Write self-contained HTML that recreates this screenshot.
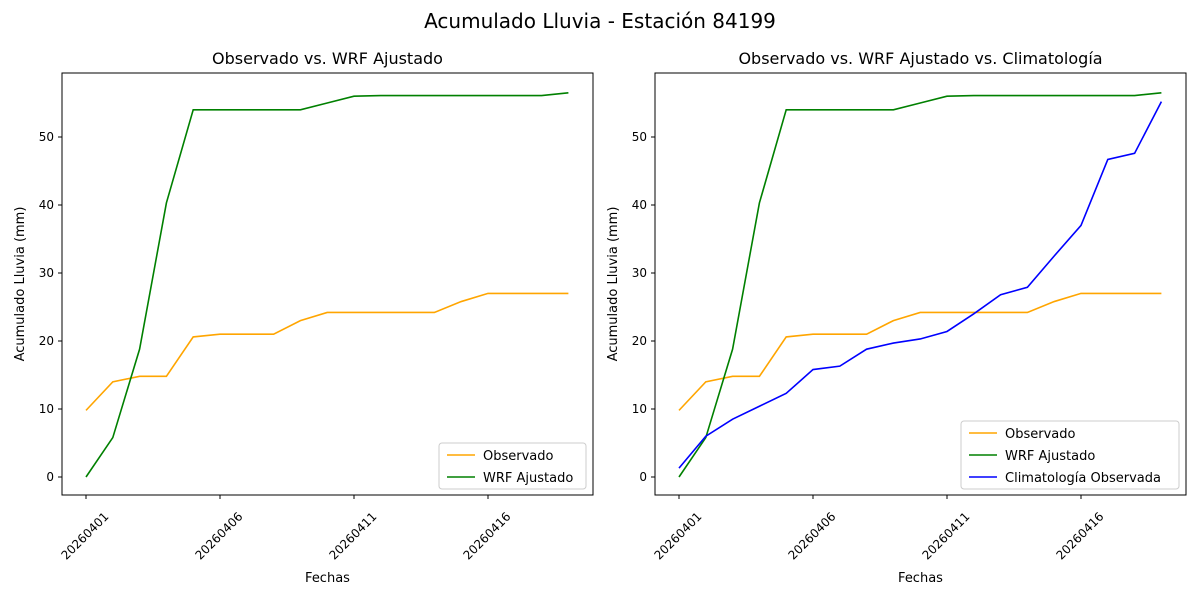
<!DOCTYPE html>
<html><head><meta charset="utf-8"><style>
body{margin:0;background:#fff;font-family:"Liberation Sans","DejaVu Sans",sans-serif}
svg text{font-family:"DejaVu Sans","Liberation Sans",sans-serif}
</style></head><body>
<svg id="c" width="1200" height="600" xmlns="http://www.w3.org/2000/svg">
<text x="600" y="28" font-size="20" text-anchor="middle">Acumulado Lluvia - Estación 84199</text>
</svg>
<script>
const dates=["20260401","20260402","20260403","20260404","20260405","20260406","20260407","20260408","20260409","20260410","20260411","20260412","20260413","20260414","20260415","20260416","20260417","20260418","20260419"];
const tickLabels=["20260401","20260406","20260411","20260416"];
const yTicks=[0,10,20,30,40,50];
const observado=[9.8,14.0,14.8,14.8,20.6,21.0,21.0,21.0,23.0,24.2,24.2,24.2,24.2,24.2,25.8,27.0,27.0,27.0,27.0];
const wrf=[0,5.8,18.8,40.3,54,54,54,54,54,55,56,56.1,56.1,56.1,56.1,56.1,56.1,56.1,56.5];
const clima=[1.3,6.0,8.5,10.4,12.3,15.8,16.3,18.8,19.7,20.3,21.4,24.0,26.8,27.9,32.5,37.0,46.7,47.6,55.2];
const NS="http://www.w3.org/2000/svg",svg=document.getElementById('c');
function mk(t,a,p){const e=document.createElementNS(NS,t);for(const k in a)e.setAttribute(k,a[k]);(p||svg).appendChild(e);return e;}
function panel(x0,title,series,legend){
  const L=x0,R=x0+531,T=73,B=495;
  const xs=i=>x0+24+i*26.8, ys=v=>477-v*6.8;
  const g=mk('g',{});
  
  
  const tt=mk('text',{x:(L+R)/2,y:64,'font-size':16,'text-anchor':'middle'},g);tt.textContent=title;
  
  yTicks.forEach(v=>{const y=ys(v);mk('line',{x1:L-4,x2:L,y1:y,y2:y,stroke:'#000'},g);
    const t=mk('text',{x:L-8,y:y+4,'font-size':12,'text-anchor':'end'},g);t.textContent=v;
    });
  tickLabels.forEach(d=>{const x=xs(dates.indexOf(d));mk('line',{x1:x,x2:x,y1:B,y2:B+4,stroke:'#000'},g);
    const cy=B+41;
    const t=mk('text',{x:x-1,y:cy+4,'font-size':12,'text-anchor':'middle',transform:`rotate(-45 ${x-1} ${cy})`},g);t.textContent=d;
    });
  series.forEach(s=>{const p=mk('polyline',{points:s.d.map((v,i)=>xs(i)+','+ys(v)).join(' '),fill:'none',stroke:s.c,'stroke-width':1.6},g);
    });
  mk('rect',{x:L,y:T,width:R-L,height:B-T,fill:'none',stroke:'#000','stroke-width':1},g);
  const xl=mk('text',{x:(L+R)/2,y:582,'font-size':13,'text-anchor':'middle'},g);xl.textContent='Fechas';
  
  const yl=mk('text',{x:0,y:0,'font-size':13,'text-anchor':'middle',transform:`translate(${L-38} ${(T+B)/2}) rotate(-90)`},g);yl.textContent='Acumulado Lluvia (mm)';
  
  const lg=mk('g',{},g);
  mk('rect',{x:legend.x,y:B-7-series.length*22-1,width:legend.w,height:series.length*22+2,fill:'#fff',stroke:'#ccc',rx:3},lg);
  series.forEach((s,i)=>{const y=B-7-series.length*22+i*22+11;
    mk('line',{x1:legend.x+8,x2:legend.x+36,y1:y,y2:y,stroke:s.c,'stroke-width':1.6},lg);
    const t=mk('text',{x:legend.x+44,y:y+5,'font-size':13},lg);t.textContent=s.n;
    });
}
panel(62,'Observado vs. WRF Ajustado',[{n:'Observado',c:'orange',d:observado},{n:'WRF Ajustado',c:'green',d:wrf}],{x:439,w:147});
panel(655,'Observado vs. WRF Ajustado vs. Climatología',[{n:'Observado',c:'orange',d:observado},{n:'WRF Ajustado',c:'green',d:wrf},{n:'Climatología Observada',c:'blue',d:clima}],{x:961,w:218});
</script>
</body></html>
